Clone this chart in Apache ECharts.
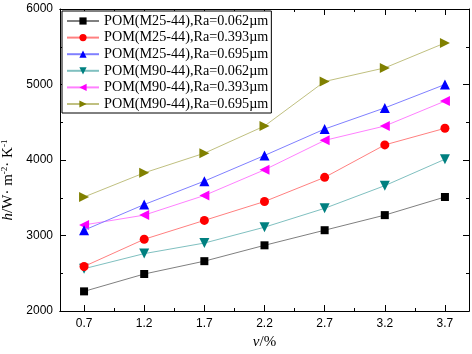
<!DOCTYPE html>
<html>
	<head>
		<meta charset="utf-8">
		<title>h - v</title>
	</head>
	<body style="margin:0">
		<div id="main" style="width: 472px;height:354px;"></div>
	</body>
	<script src="https://cdn.jsdelivr.net/npm/echarts@6/dist/echarts.min.js"></script>
	<script type="text/javascript">
		'use strict'

		// x values (v/%)
		var xValues = [0.7, 1.2, 1.7, 2.2, 2.7, 3.2, 3.7];
		var xMinor = [0.95, 1.45, 1.95, 2.45, 2.95, 3.45];

		// series names
		var names = [
			'POM(M25-44),Ra=0.062µm',
			'POM(M25-44),Ra=0.393µm',
			'POM(M25-44),Ra=0.695µm',
			'POM(M90-44),Ra=0.062µm',
			'POM(M90-44),Ra=0.393µm',
			'POM(M90-44),Ra=0.695µm'
		];

		// h values
		var m25_062 = [2260, 2490, 2660, 2870, 3070, 3270, 3510];
		var m25_393 = [2590, 2950, 3200, 3450, 3770, 4200, 4420];
		var m25_695 = [3070, 3410, 3720, 4060, 4410, 4690, 5000];
		var m90_062 = [2560, 2760, 2900, 3110, 3360, 3660, 4010];
		var m90_393 = [3140, 3270, 3530, 3870, 4260, 4450, 4780];
		var m90_695 = [3510, 3830, 4090, 4450, 5040, 5220, 5550];

		var values = [m25_062, m25_393, m25_695, m90_062, m90_393, m90_695];
		var markColors = ['#000000', '#ff0000', '#0000ff', '#008080', '#ff00ff', '#808000'];
		var lineColors = ['#808080', '#ff8080', '#8080ff', '#80c0c0', '#ff80ff', '#c0c080'];
		// down, left and right triangles as paths so the legend shows them too
		var symbols = ['rect', 'circle', 'triangle',
			'path://M0,0L10,0L5,9Z', 'path://M9,0L9,10L0,5Z', 'path://M0,0L0,10L9,5Z'];
		var sizes = [8, 9, 10, 10, 10, 10];

		function pairs(ys) {
			return xValues.map(function (x, i) { return [x, ys[i]]; });
		}

		var series = values.map(function (ys, k) {
			return {
				name: names[k],
				type: 'line',
				data: pairs(ys),
				symbol: symbols[k],
				symbolSize: sizes[k],
				showAllSymbol: true,
				itemStyle: { color: markColors[k], opacity: 1 },
				lineStyle: { color: lineColors[k], width: 1 },
				animation: false,
				z: 10 - k
			};
		});

		var serif = '"Liberation Serif", "Times New Roman", serif';
		var sans = '"Liberation Sans", Arial, sans-serif';

		function xAxisOf(pos, ticks, len, labels) {
			return {
				type: 'value',
				position: pos,
				min: 0.5,
				max: 3.9,
				axisLine: { show: true, onZero: false, lineStyle: { color: '#000', width: 1 } },
				axisTick: { show: true, inside: true, length: len, customValues: ticks, lineStyle: { color: '#000' } },
				axisLabel: labels ? {
					show: true, customValues: xValues, color: '#000', fontSize: 12, fontFamily: sans, margin: 7,
					formatter: function (v) { return v.toFixed(1); }
				} : { show: false },
				splitLine: { show: false }
			};
		}

		var bottomMain = xAxisOf('bottom', xValues, 6, true);
		bottomMain.name = '{i|v}{n|/%}';
		bottomMain.nameLocation = 'middle';
		bottomMain.nameGap = 20;
		bottomMain.nameTextStyle = {
			rich: {
				i: { fontFamily: serif, fontStyle: 'italic', fontSize: 15, color: '#000' },
				n: { fontFamily: serif, fontSize: 15, color: '#000' }
			}
		};

		var myChart = echarts.init(document.getElementById('main'));
		var option = {
			backgroundColor: '#fff',
			animation: false,
			grid: { left: 60, right: 3, top: 9, bottom: 43, outerBoundsMode: 'none', containLabel: false },
			legend: {
				orient: 'vertical',
				left: 62,
				top: 11,
				itemWidth: 32,
				itemHeight: 9,
				itemGap: 2.6,
				padding: [3, 3, 2, 4],
				borderColor: '#000',
				borderWidth: 1,
				backgroundColor: '#fff',
				textStyle: { fontFamily: serif, fontSize: 14.2, color: '#000' },
				data: names
			},
			xAxis: [
				bottomMain,
				xAxisOf('bottom', xMinor, 3, false),
				xAxisOf('top', xValues, 6, false),
				xAxisOf('top', xMinor, 3, false)
			],
			yAxis: [
				{
					type: 'value',
					min: 2000,
					max: 6000,
					interval: 1000,
					position: 'left',
					axisLine: { show: true, lineStyle: { color: '#000' } },
					axisTick: { show: true, inside: true, length: 6, lineStyle: { color: '#000' } },
					minorTick: { show: true, splitNumber: 2, length: 3, lineStyle: { color: '#000' } },
					axisLabel: {
						color: '#000', fontSize: 12, fontFamily: sans, margin: 7,
						formatter: function (v) { return String(v); }
					},
					splitLine: { show: false },
					name: '{i|h}{n|/W· m}{s|-2}{n|· K}{s|-1}',
					nameLocation: 'middle',
					nameGap: 38,
					nameRotate: 90,
					nameTextStyle: {
						padding: [0, 40, 0, 0],
						rich: {
							i: { fontFamily: serif, fontStyle: 'italic', fontSize: 15, color: '#000', lineHeight: 16 },
							n: { fontFamily: serif, fontSize: 15, color: '#000', lineHeight: 16 },
							s: { fontFamily: serif, fontSize: 9, color: '#000', verticalAlign: 'top', lineHeight: 16 }
						}
					}
				},
				{
					type: 'value',
					min: 2000,
					max: 6000,
					interval: 1000,
					position: 'right',
					axisLine: { show: true, lineStyle: { color: '#000' } },
					axisTick: { show: true, inside: true, length: 6, lineStyle: { color: '#000' } },
					minorTick: { show: true, splitNumber: 2, length: 3, lineStyle: { color: '#000' } },
					axisLabel: { show: false },
					splitLine: { show: false }
				}
			],
			series: series
		};
		myChart.setOption(option);
	</script>
</html>
